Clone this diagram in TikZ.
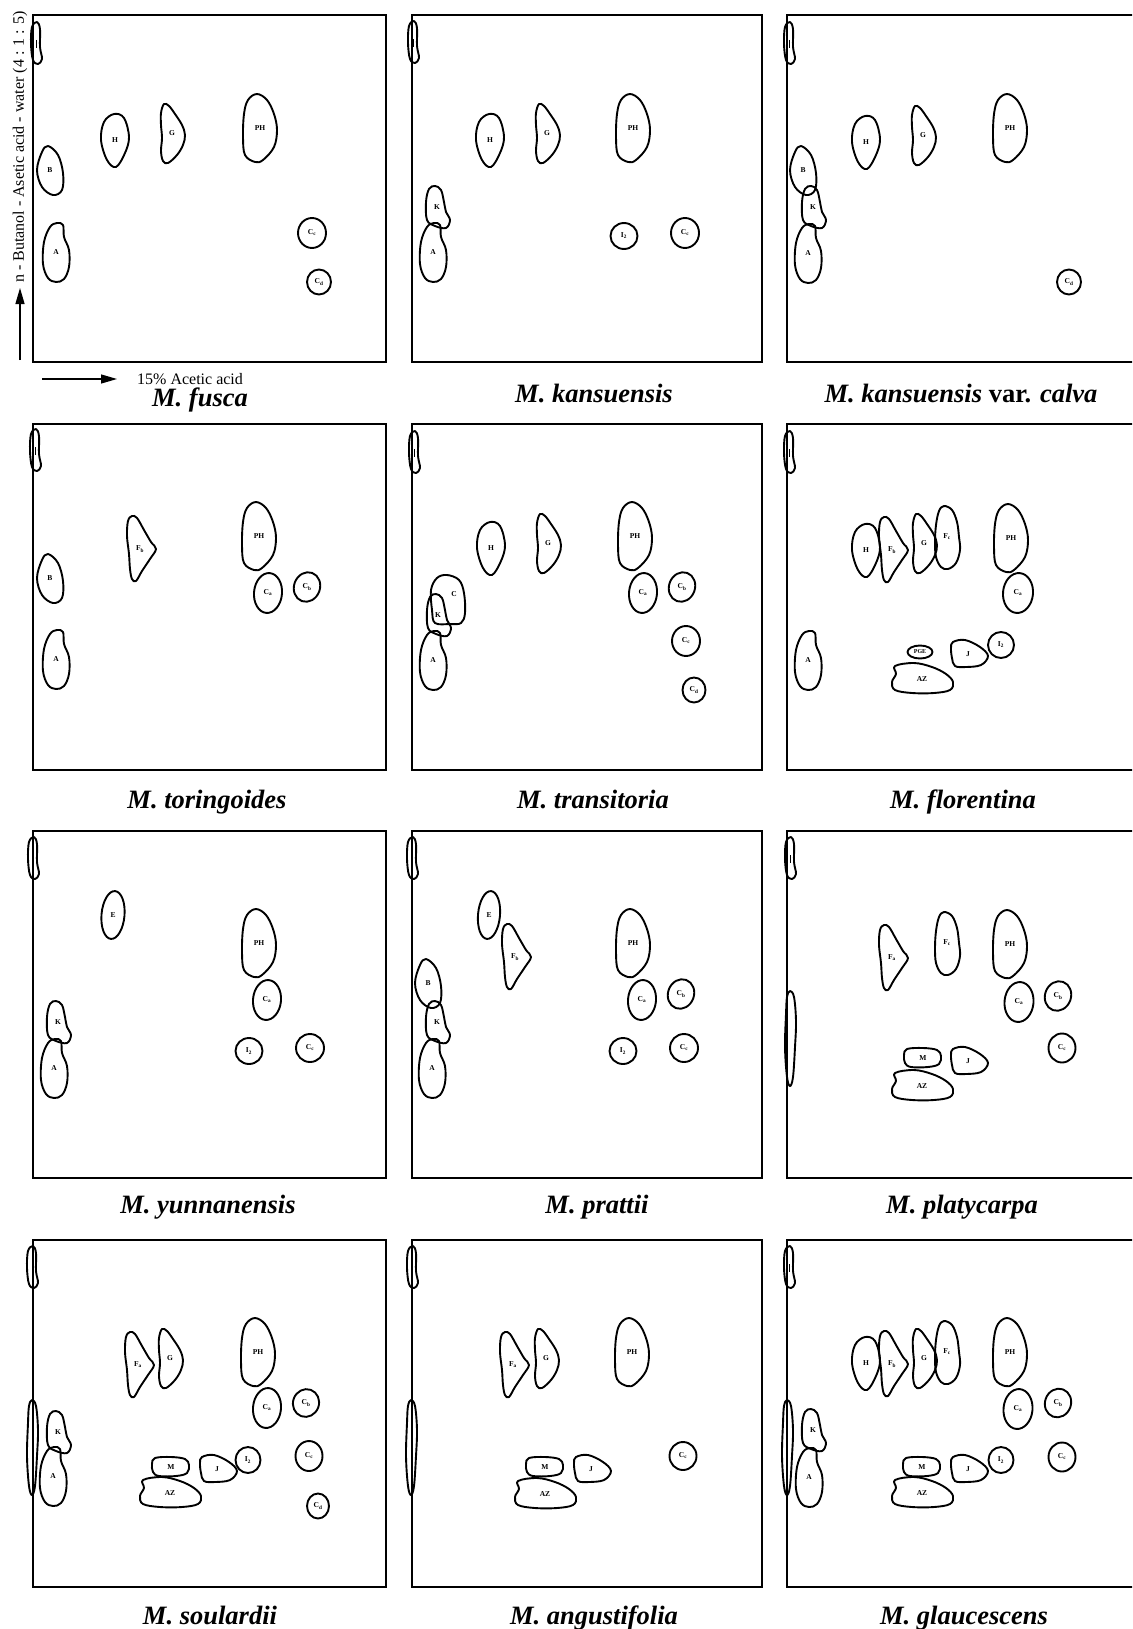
\documentclass[tikz,border=0pt]{standalone}
\usepackage{fontspec}
\setmainfont{Liberation Serif}
\usepackage{tikz}
\usetikzlibrary{arrows.meta,calc}
\tikzset{
  plate/.style={draw=black, line width=1.3pt},
  spot/.style={draw=black, line width=1.9pt, line join=round},
  tag/.style={font=\fontsize{7.5}{8}\selectfont\bfseries, inner sep=0pt},
  smalltag/.style={font=\fontsize{6}{6.5}\selectfont\bfseries, inner sep=0pt},
  caption/.style={font=\fontsize{26.5}{29}\selectfont\bfseries\itshape, anchor=base, inner sep=0pt},
  axis/.style={line width=1.3pt, -{Triangle[length=16pt, width=9pt]}},
  axislabel/.style={font=\fontsize{16}{18}\selectfont, inner sep=0pt}
}
% one spot = closed smooth outline round a centre
\newcommand{\blob}[3]{\draw[spot, shift={(#1,#2)}] plot[smooth cycle, tension=0.6] coordinates {#3};}
\newcommand{\tagat}[4]{\node[tag] (#3) at (#1,#2) {#4};}
\newcommand{\ovalspot}[7]{%
  \draw[spot, rotate around={#5:(#1,#2)}] (#1,#2) ellipse [x radius=#3, y radius=#4];
  \node[tag] (#6) at (#1,#2) {#7};}
\newcommand{\spotO}[2]{\blob{#1}{#2}{(0,-21) (3,-14) (3,4) (5,16) (1,21) (-4,17) (-6,1) (-5,-16)}
  \draw[line width=0.8pt] ($(#1,#2)+(-1,-3)$) -- ($(#1,#2)+(-1,5)$);}
\newcommand{\spotL}[2]{\blob{#1}{#2}{(-1,-47) (3,-41) (5,-17) (4,9) (2,39) (-1,48) (-4,39) (-6,9) (-5,-24) (-4,-41)}}
\newcommand{\spotPH}[3]{\blob{#1}{#2}{(-3,-34) (7,-28) (14,-14) (17,2) (14,19) (3,32) (-5,34) (-15,27) (-17,9) (-16,-14) (-12,-28)}\tagat{#1}{#2}{#3}{PH}}
\newcommand{\spotH}[3]{\blob{#1}{#2}{(-1,-26) (9,-22) (14,-3) (10,13) (1,27) (-8,20) (-14,0) (-11,-18)}\tagat{#1}{#2}{#3}{H}}
\newcommand{\spotB}[3]{\blob{#1}{#2}{(-2,-24) (8,-15) (13,3) (12,20) (3,25) (-8,17) (-13,0) (-8,-18)}\tagat{#1}{#2}{#3}{B}}
\newcommand{\spotG}[3]{\blob{#1}{#2}{(-8,-29) (-3,-27) (3,-19) (10,-8) (13,2) (11,12) (5,22) (-4,30) (-9,28) (-11,18) (-10,5) (-11,-8) (-11,-20)}\tagat{#1}{#2}{#3}{G}}
\newcommand{\spotA}[3]{\blob{#1}{#2}{(1,-29) (7,-27) (8,-15) (13,-2) (13,15) (8,27) (0,30) (-8,26) (-13,12) (-12,-10) (-6,-25)}\tagat{#1}{#2}{#3}{A}}
\newcommand{\spotK}[3]{\blob{#1}{#2}{(-2,-21) (4,-17) (7,-5) (9,5) (13,13) (9,21) (-2,19) (-10,13) (-11,-5) (-8,-18)}\tagat{#1}{#2}{#3}{K}}
\newcommand{\spotC}[3]{\blob{#1}{#2}{(-1,-24) (11,-19) (16,-6) (17,14) (13,24) (2,25) (-13,24) (-16,11) (-17,-9) (-11,-21)}\node[tag] (#3) at ($(#1,#2)+(6,-5)$) {C};}
\newcommand{\spotF}[4]{\blob{#1}{#2}{(-12,-28) (-8,-33) (-3,-31) (4,-19) (11,-7) (16,0) (10,10) (2,22) (-4,32) (-8,30) (-10,20) (-11,5) (-13,-13)}\tagat{#1}{#2}{#3}{#4}}
\newcommand{\spotFc}[3]{\blob{#1}{#2}{(-3,-31) (5,-27) (10,-15) (12,0) (13,13) (9,26) (1,32) (-6,30) (-11,20) (-12,5) (-11,-12) (-8,-26)}\tagat{#1}{#2}{#3}{F\textsubscript{c}}}
\newcommand{\spotJ}[3]{\blob{#1}{#2}{(-15,-12) (-3,-14) (12,-7) (20,2) (13,11) (-2,13) (-13,12) (-16,4) (-17,-6)}\tagat{#1}{#2}{#3}{J}}
\newcommand{\spotM}[3]{\blob{#1}{#2}{(-16,-9) (0,-10) (14,-8) (18,-2) (16,6) (5,9) (-12,9) (-18,5) (-19,-3)}\tagat{#1}{#2}{#3}{M}}
\newcommand{\spotAZ}[3]{\blob{#1}{#2}{(-27,-13) (-8,-16) (10,-12) (24,-5) (31,3) (28,11) (12,14) (-10,14) (-27,11) (-30,3) (-26,-5)}\tagat{#1}{#2}{#3}{AZ}}
\newcommand{\Ca}{C\textsubscript{a}}
\newcommand{\Cb}{C\textsubscript{b}}
\newcommand{\Cc}{C\textsubscript{c}}
\newcommand{\Cd}{C\textsubscript{d}}
\newcommand{\Itwo}{I\textsubscript{2}}

\begin{document}
\begin{tikzpicture}[x=1pt, y=-1pt]
\useasboundingbox (0,0) rectangle (1132,1629);
\clip (0,0) rectangle (1132,1629);
\fill[white] (0,0) rectangle (1132,1629);

% solvent directions
\coordinate (up-from) at (20,360);
\coordinate (up-to) at (20,288);
\draw[axis] (up-from) -- (up-to);
\node[axislabel, rotate=90] (solvent1) at (20,147) {n - Butanol - Asetic acid - water (4 : 1 : 5)};
\coordinate (right-from) at (42,379);
\coordinate (right-to) at (117,379);
\draw[axis] (right-from) -- (right-to);
\node[axislabel, anchor=base west] (solvent2) at (137,384) {15\% Acetic acid};

% row 1
\begin{scope}[shift={(33,15)}]
  \draw[plate] (0,0) rectangle (353,347);
  \spotO{4}{28}
  \spotB{17}{155}{fusca-B}
  \spotH{82}{125}{fusca-H}
  \spotG{139}{118}{fusca-G}
  \spotPH{227}{113}{fusca-PH}
  \spotA{23}{237}{fusca-A}
  \ovalspot{279}{218}{14}{15}{0}{fusca-Cc}{\Cc}
  \ovalspot{286}{267}{12}{12.5}{0}{fusca-Cd}{\Cd}
\end{scope}
\begin{scope}[shift={(412,15)}]
  \draw[plate] (0,0) rectangle (350,347);
  \spotO{2}{27}
  \spotH{78}{125}{kans-H}
  \spotG{135}{118}{kans-G}
  \spotPH{221}{113}{kans-PH}
  \spotK{25}{192}{kans-K}
  \spotA{21}{237}{kans-A}
  \ovalspot{212}{221}{13.5}{13}{0}{kans-I2}{\Itwo}
  \ovalspot{273}{218}{14}{15}{0}{kans-Cc}{\Cc}
\end{scope}
\begin{scope}[shift={(787,15)}]
  \draw[plate] (0,0) rectangle (352,347);
  \spotO{3}{28}
  \spotH{79}{127}{calva-H}
  \spotG{136}{120}{calva-G}
  \spotPH{223}{113}{calva-PH}
  \spotB{16}{155}{calva-B}
  \spotK{26}{192}{calva-K}
  \spotA{21}{238}{calva-A}
  \ovalspot{282}{267}{12}{12.5}{0}{calva-Cd}{\Cd}
\end{scope}
\node[caption] (cap-fusca) at (200,406) {M. fusca};
\node[caption] (cap-kans) at (594,402) {M. kansuensis};
\node[caption] (cap-calva) at (961,402) {M. kansuensis \textup{var.} calva};

% row 2
\begin{scope}[shift={(33,424)}]
  \draw[plate] (0,0) rectangle (353,346);
  \spotO{3}{26}
  \spotB{17}{154}{tor-B}
  \spotF{107}{125}{tor-Fb}{F\textsubscript{b}}
  \spotPH{226}{112}{tor-PH}
  \ovalspot{235}{169}{14}{20}{-5}{tor-Ca}{\Ca}
  \ovalspot{274}{163}{13}{15}{-20}{tor-Cb}{\Cb}
  \spotA{23}{235}{tor-A}
\end{scope}
\begin{scope}[shift={(412,424)}]
  \draw[plate] (0,0) rectangle (350,346);
  \spotO{3}{28}
  \spotH{79}{124}{trans-H}
  \spotG{136}{119}{trans-G}
  \spotPH{223}{112}{trans-PH}
  \ovalspot{231}{169}{14}{20}{-5}{trans-Ca}{\Ca}
  \ovalspot{270}{163}{13}{15}{-20}{trans-Cb}{\Cb}
  \ovalspot{274}{217}{14}{15}{0}{trans-Cc}{\Cc}
  \ovalspot{282}{266}{11.5}{12.5}{0}{trans-Cd}{\Cd}
  \spotC{36}{175}{trans-C}
  \spotK{26}{191}{trans-K}
  \spotA{21}{236}{trans-A}
\end{scope}
\begin{scope}[shift={(787,424)}]
  \draw[plate] (0,0) rectangle (352,346);
  \spotO{3}{28}
  \spotH{79}{126}{flor-H}
  \spotF{105}{126}{flor-Fb}{F\textsubscript{b}}
  \spotG{137}{119}{flor-G}
  \spotFc{160}{113}{flor-Fc}
  \spotPH{224}{114}{flor-PH}
  \ovalspot{231}{169}{15}{20}{-5}{flor-Ca}{\Ca}
  \spotA{21}{236}{flor-A}
  \draw[spot] (133,228) ellipse [x radius=12.5, y radius=6.5];
  \node[smalltag] (flor-PGE) at (133,228) {PGE};
  \spotJ{181}{230}{flor-J}
  \ovalspot{214}{221}{13}{13}{0}{flor-I2}{\Itwo}
  \spotAZ{135}{255}{flor-AZ}
\end{scope}
\node[caption] (cap-tor) at (207,808) {M. toringoides};
\node[caption] (cap-trans) at (593,808) {M. transitoria};
\node[caption] (cap-flor) at (963,808) {M. florentina};

% row 3
\begin{scope}[shift={(33,831)}]
  \draw[plate] (0,0) rectangle (353,347);
  \spotO{1}{27}
  \ovalspot{80}{84}{11.5}{24}{-5}{yun-E}{E}
  \spotPH{226}{112}{yun-PH}
  \ovalspot{234}{169}{14}{20}{-5}{yun-Ca}{\Ca}
  \spotK{25}{191}{yun-K}
  \spotA{21}{237}{yun-A}
  \ovalspot{216}{220}{13.5}{13}{0}{yun-I2}{\Itwo}
  \ovalspot{277}{217}{14}{14}{0}{yun-Cc}{\Cc}
\end{scope}
\begin{scope}[shift={(412,831)}]
  \draw[plate] (0,0) rectangle (350,347);
  \spotO{1}{27}
  \ovalspot{77}{84}{11}{24}{-5}{pra-E}{E}
  \spotF{103}{126}{pra-Fb}{F\textsubscript{b}}
  \spotPH{221}{112}{pra-PH}
  \ovalspot{230}{169}{14}{20}{-5}{pra-Ca}{\Ca}
  \ovalspot{269}{163}{13}{15}{-20}{pra-Cb}{\Cb}
  \ovalspot{211}{220}{13.5}{13}{0}{pra-I2}{\Itwo}
  \ovalspot{272}{217}{14}{14}{0}{pra-Cc}{\Cc}
  \spotB{16}{152}{pra-B}
  \spotK{25}{191}{pra-K}
  \spotA{20}{237}{pra-A}
\end{scope}
\begin{scope}[shift={(787,831)}]
  \draw[plate] (0,0) rectangle (352,347);
  \spotO{4}{27}
  \spotL{4}{207}
  \spotF{105}{127}{platy-Fa}{F\textsubscript{a}}
  \spotFc{160}{112}{platy-Fc}
  \spotPH{223}{113}{platy-PH}
  \ovalspot{232}{171}{14.5}{20}{-5}{platy-Ca}{\Ca}
  \ovalspot{271}{165}{13}{15}{-20}{platy-Cb}{\Cb}
  \ovalspot{275}{217}{13.5}{14.5}{0}{platy-Cc}{\Cc}
  \spotM{136}{227}{platy-M}
  \spotJ{181}{230}{platy-J}
  \spotAZ{135}{255}{platy-AZ}
\end{scope}
\node[caption] (cap-yun) at (208,1213) {M. yunnanensis};
\node[caption] (cap-pra) at (597,1213) {M. prattii};
\node[caption] (cap-platy) at (962,1213) {M. platycarpa};

% row 4
\begin{scope}[shift={(33,1240)}]
  \draw[plate] (0,0) rectangle (353,347);
  \spotO{0}{27}
  \spotL{0}{207}
  \spotK{25}{192}{soul-K}
  \spotA{20}{236}{soul-A}
  \spotF{105}{125}{soul-Fa}{F\textsubscript{a}}
  \spotG{137}{118}{soul-G}
  \spotPH{225}{112}{soul-PH}
  \ovalspot{234}{168}{14}{20}{-5}{soul-Ca}{\Ca}
  \ovalspot{273}{163}{13}{14}{-20}{soul-Cb}{\Cb}
  \spotM{138}{227}{soul-M}
  \spotJ{184}{229}{soul-J}
  \ovalspot{215}{220}{12.5}{13}{0}{soul-I2}{\Itwo}
  \ovalspot{276}{216}{13.5}{15}{0}{soul-Cc}{\Cc}
  \spotAZ{137}{253}{soul-AZ}
  \ovalspot{285}{266}{11}{12.5}{0}{soul-Cd}{\Cd}
\end{scope}
\begin{scope}[shift={(412,1240)}]
  \draw[plate] (0,0) rectangle (350,347);
  \spotO{1}{27}
  \spotL{0}{207}
  \spotF{101}{125}{ang-Fa}{F\textsubscript{a}}
  \spotG{134}{118}{ang-G}
  \spotPH{220}{112}{ang-PH}
  \ovalspot{271}{216}{13.5}{14}{0}{ang-Cc}{\Cc}
  \spotM{133}{227}{ang-M}
  \spotJ{179}{229}{ang-J}
  \spotAZ{133}{254}{ang-AZ}
\end{scope}
\begin{scope}[shift={(787,1240)}]
  \draw[plate] (0,0) rectangle (352,347);
  \spotO{3}{27}
  \spotL{1}{207}
  \spotK{26}{190}{glau-K}
  \spotA{22}{237}{glau-A}
  \spotH{79}{123}{glau-H}
  \spotF{105}{124}{glau-Fb}{F\textsubscript{b}}
  \spotG{137}{118}{glau-G}
  \spotFc{160}{112}{glau-Fc}
  \spotPH{223}{112}{glau-PH}
  \ovalspot{231}{169}{14.5}{20}{-5}{glau-Ca}{\Ca}
  \ovalspot{271}{163}{13}{14.5}{-20}{glau-Cb}{\Cb}
  \ovalspot{275}{217}{13.5}{14.5}{0}{glau-Cc}{\Cc}
  \spotM{135}{227}{glau-M}
  \spotJ{181}{229}{glau-J}
  \ovalspot{214}{220}{12.5}{13}{0}{glau-I2}{\Itwo}
  \spotAZ{135}{253}{glau-AZ}
\end{scope}
\node[caption] (cap-soul) at (210,1624) {M. soulardii};
\node[caption] (cap-ang) at (594,1624) {M. angustifolia};
\node[caption] (cap-glau) at (964,1624) {M. glaucescens};
\end{tikzpicture}
\end{document}
